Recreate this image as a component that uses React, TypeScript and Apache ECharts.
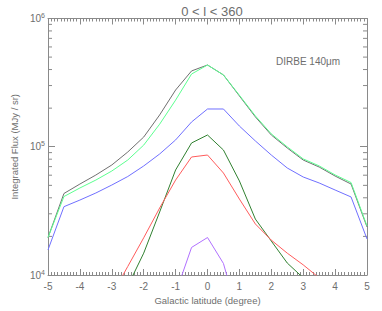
import React, { useEffect, useRef } from "react";
import * as echarts from "echarts";

const latitudes = [-5, -4.5, -4, -3.5, -3, -2.5, -2, -1.5, -1, -0.5, 0, 0.5, 1, 1.5, 2, 2.5, 3, 3.5, 4, 4.5, 5];

const totalFlux = [19600, 43200, 51200, 60200, 72100, 91000, 119000, 177000, 277000, 390000, 434000, 363000, 249000, 171000, 123500, 97800, 78800, 69500, 59100, 51200, 23700];
const greenFlux = [19600, 40900, 47700, 55000, 64700, 78800, 103000, 150000, 231000, 369000, 434000, 363000, 252000, 174000, 126000, 99800, 80400, 70900, 60300, 52600, 24100];
const blueFlux = [15700, 34100, 38400, 43600, 50300, 58600, 70800, 87800, 113000, 156000, 197000, 197000, 145000, 111000, 86200, 68300, 58100, 52200, 46000, 40600, 19100];
const darkGreenFlux = [null, null, null, null, null, 8200, 14800, 31000, 65900, 107000, 123500, 94300, 54100, 27300, 18400, 12400, 9500, null, null, null, null];
const redFlux = [null, null, null, null, 7000, 11650, 19500, 33300, 55000, 83200, 86200, 62400, 39100, 25000, 18700, 14800, 12000, 9500, null, null, null];
const purpleFlux = [null, null, null, null, null, null, null, null, 7200, 16400, 19600, 12300, 4460, null, null, null, null, null, null, null, null];

const yMinorTicks = [2e4, 3e4, 4e4, 5e4, 6e4, 7e4, 8e4, 9e4, 2e5, 3e5, 4e5, 5e5, 6e5, 7e5, 8e5, 9e5];

const FONT = "Liberation Sans";
const AXIS = "#8a8a8a";
const TEXT = "#6e6e6e";

function pairs(vals: (number | null)[]) {
  return latitudes.map((x, i) => [x, vals[i]]);
}

export default function App() {
  const ref = useRef<HTMLDivElement>(null);
  useEffect(() => {
    if (!ref.current) return;
    const chart = echarts.init(ref.current, null, { renderer: "svg" });
    const mkLine = (name: string, vals: (number | null)[], color: string) => ({
      name,
      type: "line",
      data: pairs(vals),
      showSymbol: false,
      symbol: "none",
      clip: true,
      connectNulls: false,
      lineStyle: { color, width: 1 },
      itemStyle: { color },
      xAxisIndex: 0,
      yAxisIndex: 0,
    });
    const xBase = {
      type: "value",
      min: -5,
      max: 5,
      interval: 1,
      axisLine: { show: true, onZero: false, lineStyle: { color: AXIS, width: 1 } },
      axisTick: { show: true, inside: true, length: 6, lineStyle: { color: AXIS } },
      minorTick: { show: true, splitNumber: 10, length: 3, lineStyle: { color: AXIS } },
      splitLine: { show: false },
      minorSplitLine: { show: false },
    };
    const yBase = {
      type: "log",
      logBase: 10,
      min: 1e4,
      max: 1e6,
      axisLine: { show: true, onZero: false, lineStyle: { color: AXIS, width: 1 } },
      axisTick: { show: true, inside: true, length: 7, lineStyle: { color: AXIS } },
      splitLine: { show: false },
    };
    chart.setOption({
      animation: false,
      backgroundColor: "#ffffff",
      textStyle: { fontFamily: FONT },
      title: {
        text: "0 < l < 360",
        left: 207,
        top: 0,
        textAlign: "center",
        textStyle: { fontFamily: FONT, fontSize: 13, fontWeight: "normal", color: TEXT },
      },
      grid: { left: 48, right: 15, top: 18.5, bottom: 36, containLabel: false },
      xAxis: [
        {
          ...xBase,
          position: "bottom",
          name: "Galactic latitude (degree)",
          nameLocation: "middle",
          nameGap: 16,
          nameTextStyle: { fontFamily: FONT, fontSize: 9.5, color: TEXT },
          axisLabel: { show: true, fontFamily: FONT, fontSize: 10, color: TEXT, margin: 6 },
        },
        {
          ...xBase,
          position: "top",
          axisLabel: { show: false },
        },
      ],
      yAxis: [
        {
          ...yBase,
          position: "left",
          name: "Integrated Flux (MJy / sr)",
          nameLocation: "middle",
          nameGap: 26,
          nameTextStyle: { fontFamily: FONT, fontSize: 9.5, color: TEXT },
          axisLabel: {
            show: true,
            margin: 3,
            formatter: (v: number) => "10{sup|" + Math.round(Math.log10(v)) + "}",
            rich: {
              sup: { fontSize: 7, verticalAlign: "top", color: TEXT, fontFamily: FONT, padding: [0, 0, 6, 0] },
            },
            fontFamily: FONT,
            fontSize: 10,
            color: TEXT,
          },
        },
        {
          ...yBase,
          position: "right",
          axisLabel: { show: false },
        },
      ],
      graphic: [
        {
          type: "text",
          left: 276,
          top: 56,
          style: { text: "DIRBE 140\u03bcm", fontFamily: FONT, fontSize: 10, fill: TEXT },
        },
      ],
      series: [
        mkLine("total", totalFlux, "#707070"),
        mkLine("green", greenFlux, "#5cff90"),
        mkLine("blue", blueFlux, "#7070ff"),
        mkLine("darkgreen", darkGreenFlux, "#308030"),
        mkLine("red", redFlux, "#ff5c5c"),
        mkLine("purple", purpleFlux, "#b070ff"),
        {
          type: "custom",
          name: "yminor",
          xAxisIndex: 0,
          yAxisIndex: 0,
          silent: true,
          clip: false,
          data: yMinorTicks.map((v) => [-5, v]),
          renderItem: (_params: any, api: any) => {
            const v = api.value(1);
            const pL = api.coord([-5, v]);
            const pR = api.coord([5, v]);
            const style = { stroke: AXIS, lineWidth: 1 };
            return {
              type: "group",
              children: [
                { type: "line", shape: { x1: pL[0], y1: pL[1], x2: pL[0] + 4, y2: pL[1] }, style },
                { type: "line", shape: { x1: pR[0], y1: pR[1], x2: pR[0] - 4, y2: pR[1] }, style },
              ],
            };
          },
        },
      ],
    });
    return () => chart.dispose();
  }, []);
  return (
    <div
      ref={ref}
      style={{ position: "fixed", left: 0, top: 0, width: 382, height: 311, background: "#fff" }}
    />
  );
}
